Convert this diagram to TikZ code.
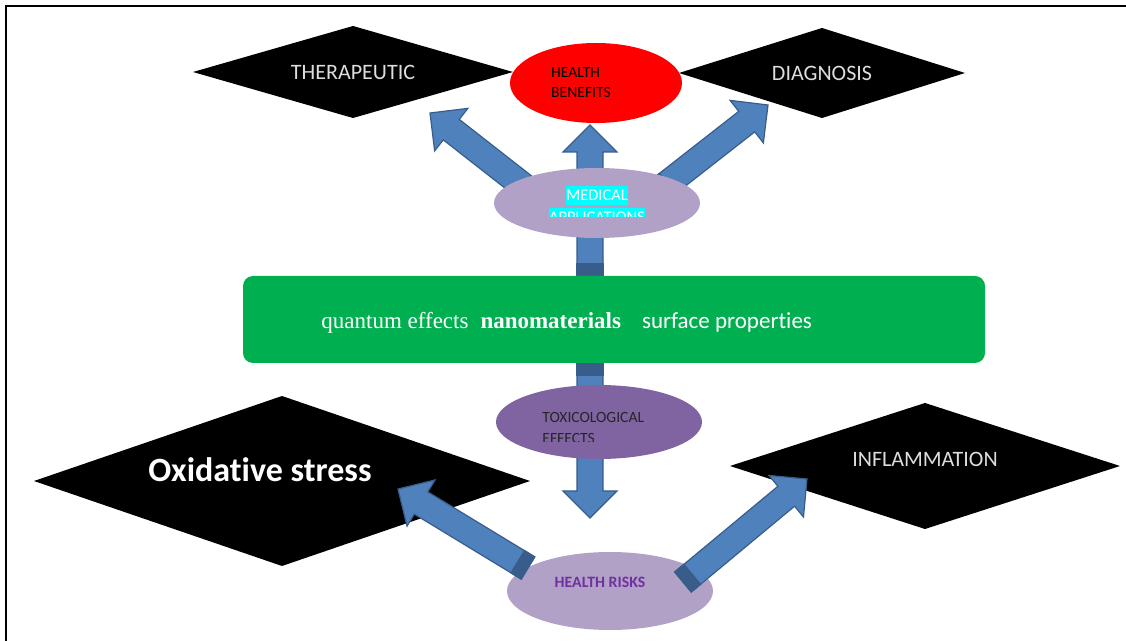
\documentclass[tikz,border=0pt]{standalone}
\usepackage{fontspec}
\setmainfont{Carlito}[Ligatures=NoCommon]
\newfontfamily\serifface{Liberation Serif}
\usetikzlibrary{shapes.geometric,calc,backgrounds}
\definecolor{nanogreen}{HTML}{00B050}
\definecolor{lavender}{HTML}{B2A1C7}
\definecolor{toxpurple}{HTML}{8064A2}
\definecolor{arrowblue}{HTML}{4F81BD}
\definecolor{arrowedge}{HTML}{385D8A}
\definecolor{riskpurple}{HTML}{7030A0}
\definecolor{lightgrey}{HTML}{DDDDDD}
\definecolor{tagcyan}{HTML}{00FFFF}
\tikzset{
  rhomb/.style    ={diamond, fill=black, inner sep=0pt, outer sep=0pt},
  oval/.style     ={ellipse, inner sep=0pt, outer sep=0pt},
  dtext/.style    ={text=lightgrey, font=\fontsize{11}{13}\selectfont},
  smalltxt/.style ={font=\fontsize{7.8}{10}\selectfont, inner sep=0pt},
  medtag/.style   ={fill=tagcyan, text=white, font=\fontsize{8.2}{10}\selectfont,
                    inner xsep=0.3pt, inner ysep=0pt, minimum height=9.5pt},
  blockarr/.style ={fill=arrowblue, draw=arrowedge, line width=0.6pt},
  blocktail/.style={fill=arrowedge, draw=arrowedge, line width=0.6pt},
}
% block arrow: #1 tail, #2 tip
\newcommand{\blockarrow}[2]{%
  \coordinate (ba-h) at ($(#2)!13.5pt!(#1)$);
  \coordinate (ba-t) at ($(#1)!6pt!(#2)$);
  \filldraw[blockarr]
    ($(#1)!6.5pt!90:(#2)$) -- ($(ba-h)!6.5pt!90:(#2)$) -- ($(ba-h)!13.5pt!90:(#2)$)
    -- (#2) -- ($(ba-h)!13.5pt!-90:(#2)$) -- ($(ba-h)!6.5pt!-90:(#2)$)
    -- ($(#1)!6.5pt!-90:(#2)$) -- cycle;
  \filldraw[blocktail]
    ($(#1)!6.5pt!90:(#2)$) -- ($(ba-t)!6.5pt!90:(#2)$)
    -- ($(ba-t)!6.5pt!-90:(#2)$) -- ($(#1)!6.5pt!-90:(#2)$) -- cycle;
}

\begin{document}
\begin{tikzpicture}[x=0.5pt, y=-0.5pt]
  \useasboundingbox (0,0) rectangle (1126,641);
  \draw[line width=1pt] (6,641) -- (6,6) -- (1126,6);

  % ---- benefits side -------------------------------------------------
  \node[rhomb, minimum width=160pt, minimum height=46pt,
        label={[dtext]center:THERAPEUTIC}] (ther) at (353,72) {};
  \node[rhomb, minimum width=143pt, minimum height=45pt,
        label={[dtext]center:DIAGNOSIS}] (diag) at (822,73) {};
  \node[oval, fill=red, minimum width=86pt, minimum height=40pt,
        label={[smalltxt, align=left, xshift=-7.5pt]center:HEALTH\\BENEFITS}]
        (benefit) at (596,83) {};
  \node[oval, fill=lavender, minimum width=103pt, minimum height=35pt]
        (medical) at (597,203) {};
  \begin{scope}
    \clip (480,150) rectangle (720,217);
    \node[medtag] (medl1) at (597,195.5) {MEDICAL};
    \node[medtag] (medl2) at (597,217.5) {APPLICATIONS};
  \end{scope}

  % ---- nanomaterials -------------------------------------------------
  \node[fill=nanogreen, rounded corners=5pt, minimum width=371pt,
        minimum height=43.5pt, inner sep=0pt] (nano) at (614,319.5) {};
  \node[anchor=base west, inner sep=0pt, text=white,
        font=\fontsize{11.5}{14}\selectfont] (nanotxt) at (321,329)
        {\serifface quantum effects\hspace{6pt}\textbf{nanomaterials}\hspace{10.5pt}\normalfont surface properties};

  % ---- risks side ----------------------------------------------------
  \node[oval, fill=toxpurple, minimum width=103pt, minimum height=37pt]
        (toxic) at (599,422) {};
  \begin{scope}
    \clip (480,380) rectangle (720,442);
    \node[smalltxt, text=black!85, align=left, anchor=west] (toxl)
          at (542,427.5) {TOXICOLOGICAL\\[0.5pt]EFFECTS};
  \end{scope}
  \node[rhomb, minimum width=248pt, minimum height=85pt,
        label={[text=white, font=\bfseries\fontsize{17}{20}\selectfont,
                xshift=-11pt, yshift=5.5pt]center:Oxidative stress}]
        (oxid) at (282,481) {};
  \node[rhomb, minimum width=195pt, minimum height=63pt,
        label={[dtext, yshift=3.5pt]center:INFLAMMATION}] (inflam) at (925,466) {};
  \node[oval, fill=lavender, minimum width=103pt, minimum height=39pt,
        label={[smalltxt, text=riskpurple, font=\bfseries\fontsize{7.9}{10}\selectfont,
                xshift=-5pt, yshift=4.5pt]center:HEALTH RISKS}]
        (risks) at (610,591) {};

  % ---- arrows --------------------------------------------------------
  \begin{scope}[on background layer]
    \coordinate (up-tail)   at ($(nano.north)+(-24,0)$);
    \coordinate (up-tip)    at ($(benefit.south)+(-6,2)$);
    \coordinate (ther-tail) at ($(medical)+(-57,-4)$);
    \coordinate (ther-tip)  at (430,113);
    \coordinate (diag-tail) at ($(medical)+(61,-12)$);
    \coordinate (diag-tip)  at (768,105);
    \coordinate (down-tail) at ($(nano.south)+(-24,0)$);
    \coordinate (down-tip)  at (590,518);
    \blockarrow{up-tail}{up-tip}
    \blockarrow{ther-tail}{ther-tip}
    \blockarrow{diag-tail}{diag-tip}
    \blockarrow{down-tail}{down-tip}
  \end{scope}
  \coordinate (oxid-tail)   at ($(risks)+(-82,-23)$);
  \coordinate (oxid-tip)    at (398,489);
  \coordinate (inflam-tail) at ($(risks)+(73,-9)$);
  \coordinate (inflam-tip)  at (807,479);
  \blockarrow{oxid-tail}{oxid-tip}
  \blockarrow{inflam-tail}{inflam-tip}
\end{tikzpicture}
\end{document}
